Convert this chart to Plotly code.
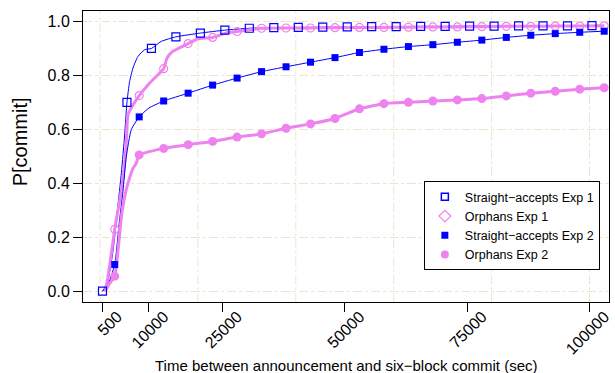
import plotly.graph_objects as go

# ---------------- data ----------------
x_ticks = [500, 10000, 25000, 50000, 75000, 100000]
x_tick_labels = ["500", "10000", "25000", "50000", "75000", "100000"]
y_ticks = [0.0, 0.2, 0.4, 0.6, 0.8, 1.0]
y_tick_labels = ["0.0", "0.2", "0.4", "0.6", "0.8", "1.0"]
grid_x = [0, 20000, 40000, 60000, 80000, 100000]

# Straight-accepts Exp 1 (open squares)
sa1_x = [500, 5500, 10500, 15500, 20500, 25500, 30500, 35500, 40500, 45500, 50500,
         55500, 60500, 65500, 70500, 75500, 80500, 85500, 90500, 95500, 100500]
sa1_y = [0.0, 0.701, 0.901, 0.944, 0.958, 0.969, 0.976, 0.978, 0.979, 0.980, 0.981,
         0.982, 0.982, 0.983, 0.983, 0.984, 0.984, 0.985, 0.985, 0.985, 0.986]
sa1_extra_x = [1500, 2650, 3550, 4360, 5030, 6040, 6720, 7730, 9090, 12480]
sa1_extra_y = [0.03, 0.15, 0.30, 0.44, 0.58, 0.778, 0.828, 0.871, 0.896, 0.927]

# Orphans Exp 1 (open circles)
orph1_x = [3000, 8000, 13000, 18000, 23000, 28000, 33000, 38000, 43000, 48000, 53000,
           58000, 63000, 68000, 73000, 78000, 83000, 88000, 93000, 98000, 103000]
orph1_y = [0.230, 0.726, 0.826, 0.919, 0.942, 0.964, 0.976, 0.977, 0.977, 0.978, 0.979,
           0.979, 0.980, 0.981, 0.981, 0.982, 0.983, 0.983, 0.984, 0.984, 0.985]
orph1_extra_x = [1000, 1500, 2000, 4360, 5000, 5400, 5700, 6700, 10100, 11460,
                 13680, 14840, 17560, 19910, 25680]
orph1_extra_y = [0.0, 0.04, 0.10, 0.375, 0.47, 0.56, 0.654, 0.69, 0.772, 0.797,
                 0.865, 0.890, 0.915, 0.936, 0.958]

# Straight-accepts Exp 2 (filled squares)
sa2_x = orph1_x
sa2_y = [0.099, 0.647, 0.706, 0.735, 0.765, 0.791, 0.815, 0.833, 0.850, 0.867, 0.886,
         0.898, 0.908, 0.915, 0.924, 0.932, 0.942, 0.950, 0.956, 0.961, 0.965]
sa2_extra_x = [500, 1500, 3900, 4680, 5370, 6390, 10000]
sa2_extra_y = [0.0, 0.02, 0.25, 0.37, 0.50, 0.60, 0.68]

# Orphans Exp 2 (filled circles)
orph2_x = orph1_x
orph2_y = [0.056, 0.506, 0.530, 0.544, 0.556, 0.572, 0.584, 0.605, 0.621, 0.641, 0.677,
           0.696, 0.701, 0.706, 0.710, 0.715, 0.725, 0.735, 0.742, 0.750, 0.755]
orph2_extra_x = [1000, 2000, 3670, 4360, 5030, 5700, 6710, 7400]
orph2_extra_y = [0.0, 0.03, 0.15, 0.276, 0.35, 0.40, 0.455, 0.475]

names = ["Straight\u2212accepts Exp 1", "Orphans Exp 1",
         "Straight\u2212accepts Exp 2", "Orphans Exp 2"]

BLUE = "#0000FF"
PINK = "#EE82EE"
GRID = "#ECE5CC"


def merged(mx, my, ex, ey):
    pts = sorted(zip(list(mx) + list(ex), list(my) + list(ey)))
    return [p[0] for p in pts], [p[1] for p in pts]


fig = go.Figure()

series = [
    (sa1_x, sa1_y, sa1_extra_x, sa1_extra_y, BLUE, 1, dict(symbol="square-open", size=8, color=BLUE, line=dict(width=1.2, color=BLUE))),
    (orph1_x, orph1_y, orph1_extra_x, orph1_extra_y, PINK, 3, dict(symbol="circle-open", size=8, color=PINK, line=dict(width=1.2, color=PINK))),
    (sa2_x, sa2_y, sa2_extra_x, sa2_extra_y, BLUE, 1, dict(symbol="square", size=7, color=BLUE)),
    (orph2_x, orph2_y, orph2_extra_x, orph2_extra_y, PINK, 3, dict(symbol="circle", size=9, color=PINK)),
]

# lines
for mx, my, ex, ey, col, w, mk in series:
    lx, ly = merged(mx, my, ex, ey)
    fig.add_trace(go.Scatter(x=lx, y=ly, mode="lines", showlegend=False, hoverinfo="skip",
                             line=dict(color=col, width=w, shape="spline", smoothing=0.5)))
# markers
for mx, my, ex, ey, col, w, mk in series:
    fig.add_trace(go.Scatter(x=mx, y=my, mode="markers", showlegend=False, marker=mk))

# legend entries
legend_markers = [
    dict(symbol="square-open", size=7, color=BLUE, line=dict(width=1.5, color=BLUE)),
    dict(symbol="diamond-open", size=9, color=PINK, line=dict(width=1.2, color=PINK)),
    dict(symbol="square", size=7, color=BLUE),
    dict(symbol="circle", size=8, color=PINK),
]
for nm, mk in zip(names, legend_markers):
    fig.add_trace(go.Scatter(x=[None], y=[None], mode="markers", name=nm, marker=mk))

shapes = [dict(type="line", xref="x", yref="paper", x0=g, x1=g, y0=0, y1=1, layer="below",
               line=dict(color=GRID, width=1, dash="dashdot")) for g in grid_x]

fig.update_layout(
    width=615, height=373,
    margin=dict(l=83, r=3, t=11, b=71),
    paper_bgcolor="white", plot_bgcolor="white",
    font=dict(family="Liberation Sans, Arial, sans-serif", size=15, color="black"),
    shapes=shapes,
    legend=dict(x=0.648, y=0.415, xanchor="left", yanchor="top",
                bgcolor="white", bordercolor="black", borderwidth=1,
                font=dict(size=12.5), itemwidth=30, tracegroupgap=0),
    annotations=[
        dict(text="P[commit]", xref="paper", yref="paper", x=-0.119, y=0.55,
             xanchor="center", yanchor="middle", textangle=-90, showarrow=False,
             font=dict(size=20)),
        dict(text="Time between announcement and six\u2212block commit (sec)",
             xref="paper", yref="paper", x=0.5, y=-0.2175, xanchor="center",
             yanchor="middle", showarrow=False, font=dict(size=15)),
    ],
)
fig.update_xaxes(range=[-3480, 103980], tickvals=x_ticks, ticktext=x_tick_labels,
                 tickangle=-45, ticks="outside", ticklen=9, tickcolor="black",
                 ticklabelshift=15, ticklabelstandoff=-11, ticklabeloverflow="allow",
                 showgrid=False, zeroline=False, showline=True, mirror=True,
                 linecolor="black", linewidth=1, tickfont=dict(size=16))
fig.update_yaxes(range=[-0.04, 1.04], tickvals=y_ticks, ticktext=y_tick_labels,
                 ticks="outside", ticklen=9, tickcolor="black",
                 showgrid=True, gridcolor=GRID, griddash="dashdot", gridwidth=1,
                 zeroline=False, showline=True, mirror=True,
                 linecolor="black", linewidth=1, tickfont=dict(size=16))

fig.write_html("out.html")
